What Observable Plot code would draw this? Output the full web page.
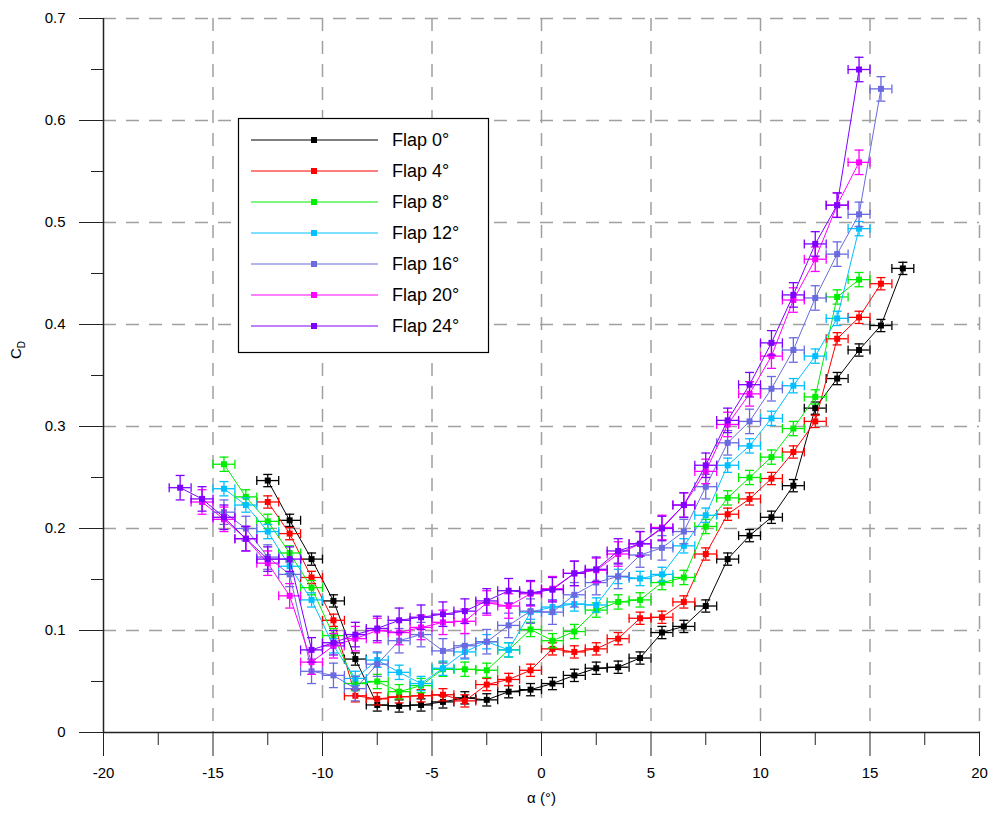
<!DOCTYPE html>
<html>
<head>
<meta charset="utf-8">
<script src="https://cdn.jsdelivr.net/npm/d3@7"></script>
<script src="https://cdn.jsdelivr.net/npm/@observablehq/plot@0.6"></script>
<style>
  html, body { margin: 0; padding: 0; background: #fff; }
</style>
</head>
<body>
<div id="chart"></div>
<script>
// ---- data ----
const seriesNames = ["Flap 0°", "Flap 4°", "Flap 8°", "Flap 12°", "Flap 16°", "Flap 20°", "Flap 24°"];
const seriesColors = ["#000000", "#ff0000", "#00ee00", "#00c0ff", "#6a6ae0", "#ff00ff", "#8000ff"];
const yErr = [0.006, 0.006, 0.007, 0.007, 0.012, 0.012, 0.012];
const xErr = 0.5;

const alpha0 = [-12.5,-11.5,-10.5,-9.5,-8.5,-7.5,-6.5,-5.5,-4.5,-3.5,-2.5,-1.5,-0.5,0.5,1.5,2.5,3.5,4.5,5.5,6.5,7.5,8.5,9.5,10.5,11.5,12.5,13.5,14.5,15.5,16.5];
const cd0 = [0.247,0.208,0.170,0.129,0.072,0.027,0.026,0.027,0.030,0.034,0.032,0.040,0.042,0.048,0.056,0.063,0.064,0.073,0.098,0.104,0.124,0.170,0.193,0.211,0.242,0.318,0.347,0.375,0.399,0.455];

const alpha4 = [-12.5,-11.5,-10.5,-9.5,-8.5,-7.5,-6.5,-5.5,-4.5,-3.5,-2.5,-1.5,-0.5,0.5,1.5,2.5,3.5,4.5,5.5,6.5,7.5,8.5,9.5,10.5,11.5,12.5,13.5,14.5,15.5];
const cd4 = [0.226,0.195,0.152,0.110,0.036,0.033,0.035,0.036,0.037,0.031,0.047,0.052,0.061,0.082,0.079,0.082,0.092,0.112,0.113,0.128,0.175,0.214,0.229,0.249,0.275,0.305,0.386,0.407,0.440];

const alpha8 = [-14.5,-13.5,-12.5,-11.5,-10.5,-9.5,-8.5,-7.5,-6.5,-5.5,-4.5,-3.5,-2.5,-1.5,-0.5,0.5,1.5,2.5,3.5,4.5,5.5,6.5,7.5,8.5,9.5,10.5,11.5,12.5,13.5,14.5];
const cd8 = [0.263,0.231,0.207,0.176,0.142,0.095,0.048,0.050,0.040,0.046,0.062,0.062,0.061,0.081,0.101,0.090,0.099,0.120,0.128,0.130,0.147,0.152,0.202,0.230,0.250,0.270,0.298,0.329,0.427,0.444];

const alpha12 = [-14.5,-13.5,-12.5,-11.5,-10.5,-9.5,-8.5,-7.5,-6.5,-5.5,-4.5,-3.5,-2.5,-1.5,-0.5,0.5,1.5,2.5,3.5,4.5,5.5,6.5,7.5,8.5,9.5,10.5,11.5,12.5,13.5,14.5];
const cd12 = [0.239,0.223,0.197,0.163,0.130,0.085,0.053,0.071,0.059,0.048,0.063,0.079,0.089,0.081,0.118,0.123,0.126,0.125,0.153,0.151,0.155,0.183,0.213,0.262,0.281,0.308,0.340,0.369,0.406,0.494];

const alpha16 = [-14.5,-13.5,-12.5,-11.5,-10.5,-9.5,-8.5,-7.5,-6.5,-5.5,-4.5,-3.5,-2.5,-1.5,-0.5,0.5,1.5,2.5,3.5,4.5,5.5,6.5,7.5,8.5,9.5,10.5,11.5,12.5,13.5,14.5,15.5];
const cd16 = [0.216,0.200,0.172,0.155,0.060,0.056,0.043,0.067,0.090,0.096,0.080,0.085,0.089,0.105,0.119,0.118,0.135,0.147,0.153,0.174,0.181,0.197,0.241,0.284,0.305,0.337,0.375,0.426,0.469,0.508,0.631];

const alpha20 = [-15.5,-14.5,-13.5,-12.5,-11.5,-10.5,-9.5,-8.5,-7.5,-6.5,-5.5,-4.5,-3.5,-2.5,-1.5,-0.5,0.5,1.5,2.5,3.5,4.5,5.5,6.5,7.5,8.5,9.5,10.5,11.5,12.5,13.5,14.5];
const cd20 = [0.226,0.209,0.190,0.166,0.134,0.069,0.085,0.092,0.100,0.098,0.103,0.108,0.109,0.127,0.124,0.136,0.141,0.156,0.159,0.175,0.185,0.201,0.223,0.256,0.302,0.332,0.369,0.424,0.464,0.517,0.559];

const alpha24 = [-16.5,-15.5,-14.5,-13.5,-12.5,-11.5,-10.5,-9.5,-8.5,-7.5,-6.5,-5.5,-4.5,-3.5,-2.5,-1.5,-0.5,0.5,1.5,2.5,3.5,4.5,5.5,6.5,7.5,8.5,9.5,10.5,11.5,12.5,13.5,14.5];
const cd24 = [0.240,0.229,0.211,0.190,0.170,0.170,0.081,0.088,0.096,0.102,0.110,0.113,0.116,0.119,0.129,0.139,0.137,0.140,0.156,0.160,0.178,0.185,0.200,0.223,0.262,0.306,0.341,0.382,0.429,0.479,0.517,0.650];

const xMajorTicks = [-20, -15, -10, -5, 0, 5, 10, 15, 20];
const xMinorTicks = [-17.5, -12.5, -7.5, -2.5, 2.5, 7.5, 12.5, 17.5];
const yMajorTicks = [0, 0.1, 0.2, 0.3, 0.4, 0.5, 0.6, 0.7];
const yMinorTicks = [0.05, 0.15, 0.25, 0.35, 0.45, 0.55, 0.65];
const xGrid = [-15, -10, -5, 0, 5, 10, 15, 20];
const yGrid = [0.1, 0.2, 0.3, 0.4, 0.5, 0.6, 0.7];

// ---- build ----
const alphas = [alpha0, alpha4, alpha8, alpha12, alpha16, alpha20, alpha24];
const cds = [cd0, cd4, cd8, cd12, cd16, cd20, cd24];
const seriesData = seriesNames.map((name, k) =>
  alphas[k].map((a, i) => ({name, a, cd: cds[k][i], e: yErr[k]})));

const hcap = {draw(ctx) { ctx.moveTo(-4.5, 0); ctx.lineTo(4.5, 0); }};
const vcap = {draw(ctx) { ctx.moveTo(0, -4.5); ctx.lineTo(0, 4.5); }};
const sq = {draw(ctx) { ctx.rect(-3, -3, 6, 6); }};

const marks = [
  Plot.ruleX(xGrid, {stroke: "#a0a0a0", strokeWidth: 1.5, strokeDasharray: "13,10"}),
  Plot.ruleY(yGrid, {stroke: "#a0a0a0", strokeWidth: 1.5, strokeDasharray: "13,10"}),
  Plot.axisX({ticks: xMajorTicks, tickSize: 24, tickPadding: 11, tickFormat: d => String(d), label: null, fontSize: 15, stroke: "#222"}),
  Plot.axisX({ticks: xMinorTicks, tickSize: 13, tickFormat: () => "", label: null, stroke: "#222"}),
  Plot.axisY({ticks: yMajorTicks, tickSize: 24, tickPadding: 14, tickFormat: d => String(d), label: null, fontSize: 15, stroke: "#222"}),
  Plot.axisY({ticks: yMinorTicks, tickSize: 12, tickFormat: () => "", label: null, stroke: "#222"}),
  Plot.text([0], {frameAnchor: "bottom", dy: 70, text: () => "α (°)", fontSize: 15})
];

seriesData.forEach((data, k) => {
  const c = seriesColors[k];
  marks.push(
    Plot.line(data, {x: "a", y: "cd", stroke: c, strokeWidth: 1}),
    Plot.ruleX(data, {x: "a", y1: d => d.cd - d.e, y2: d => d.cd + d.e, stroke: c, strokeWidth: 1.3}),
    Plot.ruleY(data, {y: "cd", x1: d => d.a - xErr, x2: d => d.a + xErr, stroke: c, strokeWidth: 1.3}),
    Plot.dot(data, {x: "a", y: d => d.cd + d.e, symbol: hcap, stroke: c, strokeWidth: 1.3, fill: "none"}),
    Plot.dot(data, {x: "a", y: d => d.cd - d.e, symbol: hcap, stroke: c, strokeWidth: 1.3, fill: "none"}),
    Plot.dot(data, {x: d => d.a - xErr, y: "cd", symbol: vcap, stroke: c, strokeWidth: 1.3, fill: "none"}),
    Plot.dot(data, {x: d => d.a + xErr, y: "cd", symbol: vcap, stroke: c, strokeWidth: 1.3, fill: "none"}),
    Plot.dot(data, {x: "a", y: "cd", symbol: sq, fill: c, stroke: "none"})
  );
});

marks.push(
  Plot.ruleY([0], {stroke: "#222", strokeWidth: 1.5}),
  Plot.ruleX([-20], {stroke: "#222", strokeWidth: 1.5})
);

const chart = Plot.plot({
  width: 994,
  height: 814,
  marginLeft: 103,
  marginRight: 15,
  marginTop: 18,
  marginBottom: 82,
  style: {fontFamily: "'Liberation Sans', Arial, sans-serif", fontSize: "15px", background: "#fff", color: "#000"},
  x: {domain: [-20, 20]},
  y: {domain: [0, 0.7]},
  marks
});

document.getElementById("chart").appendChild(chart);

// ---- y-axis title with subscript ----
const svg = d3.select(chart);
const yt = svg.append("text")
  .attr("transform", "translate(21,350) rotate(-90)")
  .attr("text-anchor", "middle")
  .attr("font-family", "'Liberation Sans', Arial, sans-serif")
  .attr("font-size", 15)
  .attr("fill", "#000");
yt.append("tspan").text("C");
yt.append("tspan").attr("font-size", 10).attr("dy", 4).text("D");

// ---- legend ----
const lg = svg.append("g")
  .attr("font-family", "'Liberation Sans', Arial, sans-serif")
  .attr("text-anchor", "start");
lg.append("rect").attr("x", 238.5).attr("y", 118.5).attr("width", 250).attr("height", 234)
  .attr("fill", "#fff").attr("stroke", "#000").attr("stroke-width", 1.2);
seriesNames.forEach((name, i) => {
  const yy = 140 + i * 31;
  lg.append("line").attr("x1", 251).attr("x2", 378).attr("y1", yy).attr("y2", yy)
    .attr("stroke", seriesColors[i]).attr("stroke-width", 1.2);
  lg.append("rect").attr("x", 311).attr("y", yy - 3).attr("width", 6).attr("height", 6)
    .attr("fill", seriesColors[i]);
  lg.append("text").attr("x", 392).attr("y", yy).attr("dy", "0.35em")
    .attr("text-anchor", "start")
    .attr("font-size", 18).attr("fill", "#000").text(name);
});
</script>
</body>
</html>
